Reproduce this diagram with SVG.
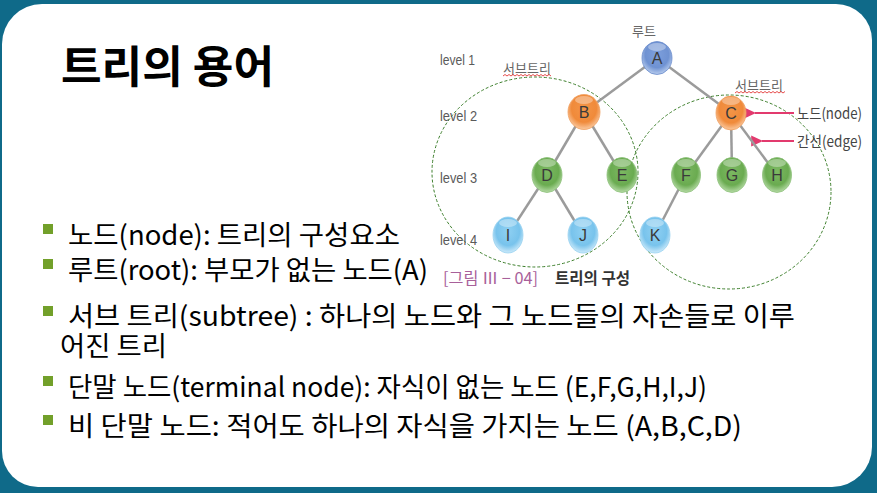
<svg xmlns="http://www.w3.org/2000/svg" width="877" height="493" viewBox="0 0 877 493">
  <defs>
    <style>
      .title { font-family: "Noto Sans CJK KR", "Noto Sans", sans-serif; font-weight: bold; font-size: 44px; fill: #000; }
      .item { font-family: "Noto Sans CJK KR", "Noto Sans", sans-serif; font-size: 27px; fill: #000; }
      .bullet { fill: #72a02a; }
      .lvl { font-family: "Liberation Sans", Arial, sans-serif; font-size: 14px; fill: #5a5a5a; }
      .small { font-family: "Noto Sans CJK KR", "Liberation Sans", sans-serif; font-size: 13px; fill: #666; }
      .side { font-family: "Noto Sans CJK KR", "Liberation Sans", sans-serif; font-size: 15px; fill: #444; }
      .cap { font-family: "Noto Sans CJK KR", "Liberation Sans", sans-serif; font-size: 16px; }
      .lbl { font-family: "Liberation Sans", Arial, sans-serif; font-size: 16px; fill: #3a3a3a; text-anchor: middle; }
      .edge { stroke: #9b9b9b; stroke-width: 2.5; fill: none; }
      .sub { fill: none; stroke: #3d7f2c; stroke-width: 1; stroke-dasharray: 3 2; }
      .arrow { stroke: #e23a6e; stroke-width: 2; fill: none; }
      .squig { fill: none; stroke: #e02020; stroke-width: 0.8; }
      .hl { fill: #ffffff; opacity: 0.35; }
    </style>
    <radialGradient id="gBlue" cx="50%" cy="40%" r="60%">
      <stop offset="0" stop-color="#7d9fdc"/>
      <stop offset="0.65" stop-color="#6f92d2"/>
      <stop offset="1" stop-color="#b9cdee"/>
    </radialGradient>
    <radialGradient id="gOrange" cx="50%" cy="40%" r="60%">
      <stop offset="0" stop-color="#f39548"/>
      <stop offset="0.65" stop-color="#f08a3a"/>
      <stop offset="1" stop-color="#fac9a0"/>
    </radialGradient>
    <radialGradient id="gGreen" cx="50%" cy="40%" r="60%">
      <stop offset="0" stop-color="#7cb862"/>
      <stop offset="0.65" stop-color="#6aab50"/>
      <stop offset="1" stop-color="#b6dba6"/>
    </radialGradient>
    <radialGradient id="gSky" cx="50%" cy="40%" r="60%">
      <stop offset="0" stop-color="#8fd0f2"/>
      <stop offset="0.65" stop-color="#78c3ec"/>
      <stop offset="1" stop-color="#cdeafa"/>
    </radialGradient>
    <marker id="head" viewBox="0 0 10 10" refX="1" refY="5" markerWidth="6" markerHeight="6" orient="auto-start-reverse">
      <path d="M0,5 L10,0.5 L10,9.5 Z" fill="#e23a6e"/>
    </marker>
  </defs>

  <!-- frame -->
  <rect x="0" y="0" width="877" height="493" fill="#0f6a89"/>
  <path d="M42,4 H836 A36,36 0 0 1 872,40 V447 A40,40 0 0 1 832,487 H38 A36,36 0 0 1 2,451 V44 A40,40 0 0 1 42,4 Z" fill="#ffffff"/>

  <!-- heading -->
  <text class="title" x="61" y="83" textLength="213" lengthAdjust="spacingAndGlyphs">트리의 용어</text>

  <!-- subtree outlines -->
  <g id="subtrees">
    <ellipse class="sub" cx="535" cy="172" rx="103" ry="95"/>
    <ellipse class="sub" cx="729" cy="192" rx="102" ry="97"/>
  </g>

  <!-- level labels -->
  <g id="levels">
    <text class="lvl" x="440" y="65" textLength="35" lengthAdjust="spacingAndGlyphs">level 1</text>
    <text class="lvl" x="440" y="121" textLength="37" lengthAdjust="spacingAndGlyphs">level 2</text>
    <text class="lvl" x="440" y="183" textLength="37" lengthAdjust="spacingAndGlyphs">level 3</text>
    <text class="lvl" x="440" y="245" textLength="37" lengthAdjust="spacingAndGlyphs">level 4</text>
  </g>

  <!-- annotations -->
  <g id="annotations">
    <text class="small" x="632" y="36">루트</text>
    <text class="small" x="503" y="73">서브트리</text>
    <path class="squig" d="M503,76 l2,-1.5 l2,1.5 l2,-1.5 l2,1.5 l2,-1.5 l2,1.5 l2,-1.5 l2,1.5 l2,-1.5 l2,1.5 l2,-1.5 l2,1.5 l2,-1.5 l2,1.5 l2,-1.5 l2,1.5 l2,-1.5 l2,1.5 l2,-1.5 l2,1.5 l2,-1.5 l2,1.5 l2,-1.5 l2,1.5"/>
    <text class="small" x="735" y="90">서브트리</text>
    <path class="squig" d="M735,93 l2,-1.5 l2,1.5 l2,-1.5 l2,1.5 l2,-1.5 l2,1.5 l2,-1.5 l2,1.5 l2,-1.5 l2,1.5 l2,-1.5 l2,1.5 l2,-1.5 l2,1.5 l2,-1.5 l2,1.5 l2,-1.5 l2,1.5 l2,-1.5 l2,1.5 l2,-1.5 l2,1.5 l2,-1.5 l2,1.5 l2,-1.5"/>
    <text class="side" x="797" y="119" textLength="65" lengthAdjust="spacingAndGlyphs">노드(node)</text>
    <text class="side" x="797" y="147" textLength="65" lengthAdjust="spacingAndGlyphs">간선(edge)</text>
    <line class="arrow" x1="794" y1="113" x2="755" y2="113" marker-end="url(#head)"/>
    <line class="arrow" x1="794" y1="141" x2="762" y2="141" marker-end="url(#head)"/>
  </g>

  <!-- tree edges -->
  <g id="edges">
    <line class="edge" x1="657" y1="58" x2="584" y2="112"/>
    <line class="edge" x1="657" y1="58" x2="731" y2="113"/>
    <line class="edge" x1="584" y1="112" x2="547" y2="175"/>
    <line class="edge" x1="584" y1="112" x2="622" y2="175"/>
    <line class="edge" x1="731" y1="113" x2="686" y2="175"/>
    <line class="edge" x1="731" y1="113" x2="732" y2="175"/>
    <line class="edge" x1="731" y1="113" x2="777" y2="175"/>
    <line class="edge" x1="547" y1="175" x2="508" y2="235"/>
    <line class="edge" x1="547" y1="175" x2="583" y2="235"/>
    <line class="edge" x1="686" y1="175" x2="655" y2="235"/>
  </g>

  <!-- tree nodes -->
  <g id="node-A"><ellipse cx="657" cy="58" rx="15" ry="16.5" fill="url(#gBlue)" stroke="#6a8ccc" stroke-width="0.8"/><ellipse class="hl" cx="657" cy="47" rx="9" ry="4"/><text class="lbl" x="657" y="64">A</text></g>
  <g id="node-B"><ellipse cx="584" cy="112" rx="16" ry="17.5" fill="url(#gOrange)" stroke="#f0a060" stroke-width="0.8"/><ellipse class="hl" cx="584" cy="100" rx="9" ry="4"/><text class="lbl" x="584" y="118">B</text></g>
  <g id="node-C"><ellipse cx="731" cy="113" rx="15" ry="17" fill="url(#gOrange)" stroke="#f0a060" stroke-width="0.8"/><ellipse class="hl" cx="731" cy="101" rx="9" ry="4"/><text class="lbl" x="731" y="119">C</text></g>
  <g id="node-D"><ellipse cx="547" cy="175" rx="15" ry="17.5" fill="url(#gGreen)" stroke="#8cc078" stroke-width="0.8"/><ellipse class="hl" cx="547" cy="163" rx="9" ry="4"/><text class="lbl" x="547" y="181">D</text></g>
  <g id="node-E"><ellipse cx="622" cy="175" rx="15" ry="17.5" fill="url(#gGreen)" stroke="#8cc078" stroke-width="0.8"/><ellipse class="hl" cx="622" cy="163" rx="9" ry="4"/><text class="lbl" x="622" y="181">E</text></g>
  <g id="node-F"><ellipse cx="686" cy="175" rx="14.5" ry="17.5" fill="url(#gGreen)" stroke="#8cc078" stroke-width="0.8"/><ellipse class="hl" cx="686" cy="163" rx="9" ry="4"/><text class="lbl" x="686" y="181">F</text></g>
  <g id="node-G"><ellipse cx="732" cy="175" rx="15" ry="17.5" fill="url(#gGreen)" stroke="#8cc078" stroke-width="0.8"/><ellipse class="hl" cx="732" cy="163" rx="9" ry="4"/><text class="lbl" x="732" y="181">G</text></g>
  <g id="node-H"><ellipse cx="777" cy="175" rx="14.5" ry="17.5" fill="url(#gGreen)" stroke="#8cc078" stroke-width="0.8"/><ellipse class="hl" cx="777" cy="163" rx="9" ry="4"/><text class="lbl" x="777" y="181">H</text></g>
  <g id="node-I"><ellipse cx="508" cy="235" rx="15" ry="18" fill="url(#gSky)" stroke="#98d2f0" stroke-width="0.8"/><ellipse class="hl" cx="508" cy="223" rx="9" ry="4"/><text class="lbl" x="508" y="241">I</text></g>
  <g id="node-J"><ellipse cx="583" cy="235" rx="15" ry="18" fill="url(#gSky)" stroke="#98d2f0" stroke-width="0.8"/><ellipse class="hl" cx="583" cy="223" rx="9" ry="4"/><text class="lbl" x="583" y="241">J</text></g>
  <g id="node-K"><ellipse cx="655" cy="235" rx="15" ry="18" fill="url(#gSky)" stroke="#98d2f0" stroke-width="0.8"/><ellipse class="hl" cx="655" cy="223" rx="9" ry="4"/><text class="lbl" x="655" y="241">K</text></g>

  <!-- figure caption -->
  <g id="caption">
    <text class="cap" x="443" y="284" fill="#a8609a" textLength="95" lengthAdjust="spacingAndGlyphs">[그림 Ⅲ − 04]</text>
    <text class="cap" x="555" y="284" fill="#333" font-weight="bold" textLength="75" lengthAdjust="spacingAndGlyphs">트리의 구성</text>
  </g>

  <!-- bullet list -->
  <g id="bullets">
    <rect class="bullet" x="43" y="224" width="10" height="10"/>
    <text class="item" x="68" y="245" textLength="332" lengthAdjust="spacingAndGlyphs">노드(node): 트리의 구성요소</text>
    <rect class="bullet" x="43" y="259" width="10" height="10"/>
    <text class="item" x="68" y="280" textLength="360" lengthAdjust="spacingAndGlyphs">루트(root): 부모가 없는 노드(A)</text>
    <rect class="bullet" x="43" y="306" width="10" height="10"/>
    <text class="item" x="68" y="326" textLength="727" lengthAdjust="spacingAndGlyphs">서브 트리(subtree) : 하나의 노드와 그 노드들의 자손들로 이루</text>
    <text class="item" x="60" y="356" textLength="107" lengthAdjust="spacingAndGlyphs">어진 트리</text>
    <rect class="bullet" x="43" y="376" width="10" height="10"/>
    <text class="item" x="68" y="397" textLength="639" lengthAdjust="spacingAndGlyphs">단말 노드(terminal node): 자식이 없는 노드 (E,F,G,H,I,J)</text>
    <rect class="bullet" x="43" y="415" width="10" height="10"/>
    <text class="item" x="68" y="436" textLength="674" lengthAdjust="spacingAndGlyphs">비 단말 노드: 적어도 하나의 자식을 가지는 노드 (A,B,C,D)</text>
  </g>
</svg>
